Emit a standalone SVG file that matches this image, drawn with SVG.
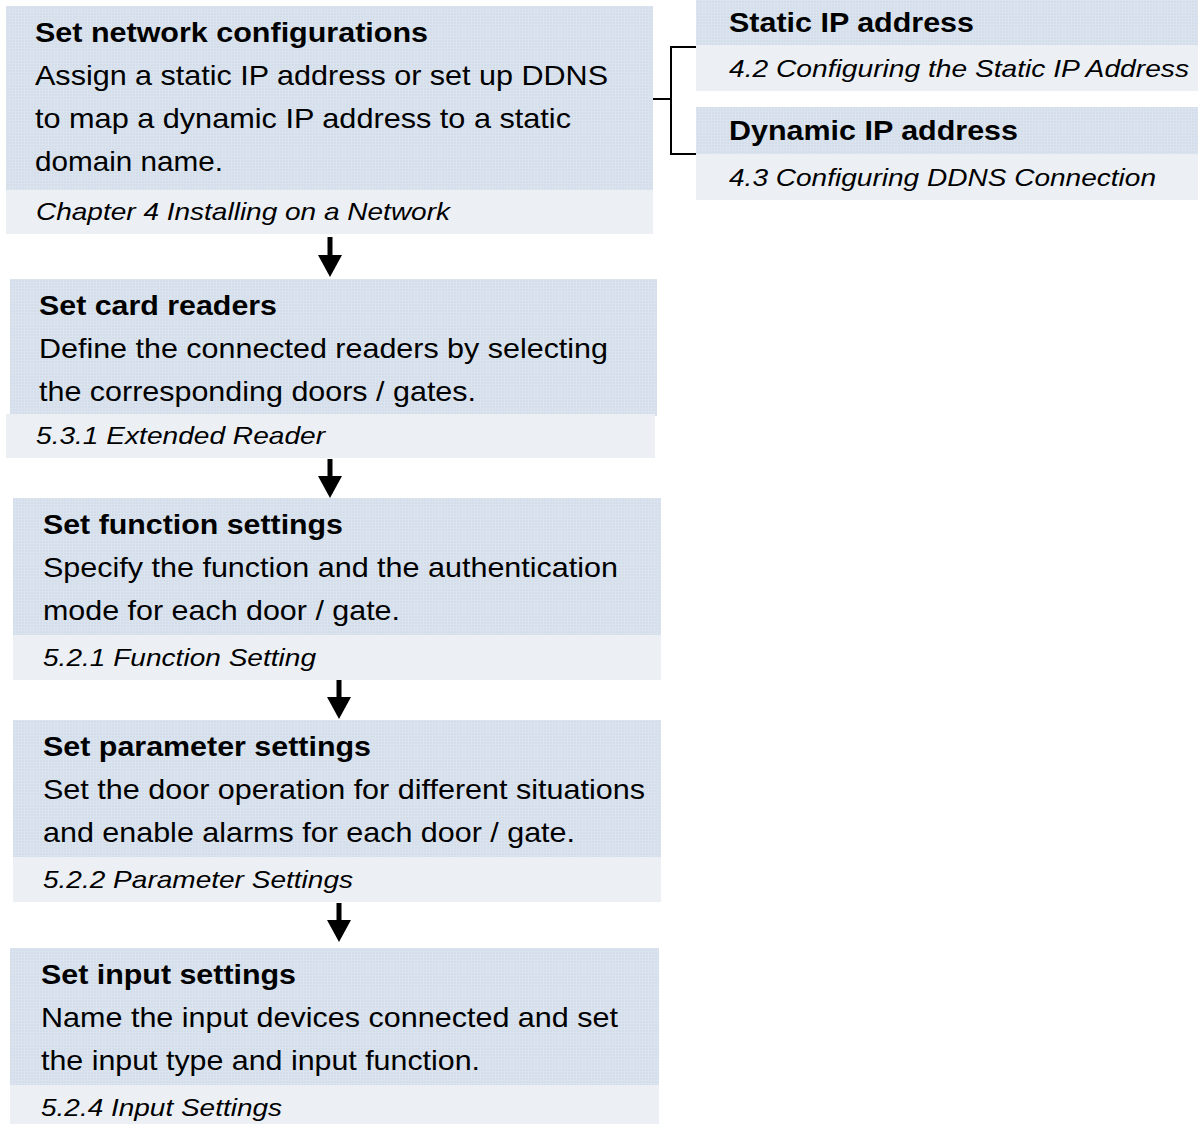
<svg xmlns="http://www.w3.org/2000/svg" width="1198" height="1124" viewBox="0 0 1198 1124">
<style>
.hd{fill:url(#tex)}
.ref{fill:#ecf0f5}
.t{font-family:"Liberation Sans",Arial,sans-serif;font-weight:bold;font-size:28px;fill:#000}
.b{font-family:"Liberation Sans",Arial,sans-serif;font-size:28px;fill:#000}
.i{font-family:"Liberation Sans",Arial,sans-serif;font-style:italic;font-size:24px;fill:#000}
.ln{fill:none;stroke:#000;stroke-width:2}
.sh{stroke:#000;stroke-width:5}
</style>
<defs>
<pattern id="tex" width="3" height="3" patternUnits="userSpaceOnUse">
<rect width="3" height="3" fill="#d3deea"/>
<rect width="3" height="1" fill="#dbe4ee"/>
<rect width="1" height="3" fill="#dbe4ee"/>
</pattern>
<marker id="ah" markerUnits="userSpaceOnUse" markerWidth="22" markerHeight="24" refX="0" refY="12" orient="auto" viewBox="0 0 22 24">
<path d="M0,0 L22,12 L0,24 Z" fill="#000"/>
</marker>
</defs>
<rect width="1198" height="1124" fill="#fff"/>

<g id="node-network">
<rect class="hd" x="6" y="6" width="647" height="184"/>
<rect class="ref" x="6" y="190" width="647" height="44"/>
<text class="t" x="35" y="42" textLength="393" lengthAdjust="spacingAndGlyphs">Set network configurations</text>
<text class="b" x="35" y="85" textLength="573" lengthAdjust="spacingAndGlyphs">Assign a static IP address or set up DDNS</text>
<text class="b" x="35" y="128" textLength="536" lengthAdjust="spacingAndGlyphs">to map a dynamic IP address to a static</text>
<text class="b" x="35" y="171" textLength="188" lengthAdjust="spacingAndGlyphs">domain name.</text>
<text class="i" x="36" y="220" textLength="414" lengthAdjust="spacingAndGlyphs">Chapter 4 Installing on a Network</text>
</g>

<g id="node-static">
<rect class="hd" x="696" y="0" width="502" height="45"/>
<rect class="ref" x="696" y="45" width="502" height="46"/>
<text class="t" x="729" y="32" textLength="245" lengthAdjust="spacingAndGlyphs">Static IP address</text>
<text class="i" x="729" y="77" textLength="460" lengthAdjust="spacingAndGlyphs">4.2 Configuring the Static IP Address</text>
</g>

<g id="node-dynamic">
<rect class="hd" x="696" y="107" width="502" height="47"/>
<rect class="ref" x="696" y="154" width="502" height="46"/>
<text class="t" x="729" y="140" textLength="289" lengthAdjust="spacingAndGlyphs">Dynamic IP address</text>
<text class="i" x="729" y="186" textLength="427" lengthAdjust="spacingAndGlyphs">4.3 Configuring DDNS Connection</text>
</g>

<g id="node-readers">
<rect class="hd" x="10" y="279" width="647" height="137"/>
<rect class="ref" x="6" y="414" width="649" height="44"/>
<text class="t" x="39" y="315" textLength="238" lengthAdjust="spacingAndGlyphs">Set card readers</text>
<text class="b" x="39" y="358" textLength="569" lengthAdjust="spacingAndGlyphs">Define the connected readers by selecting</text>
<text class="b" x="39" y="401" textLength="437" lengthAdjust="spacingAndGlyphs">the corresponding doors / gates.</text>
<text class="i" x="36" y="444" textLength="289" lengthAdjust="spacingAndGlyphs">5.3.1 Extended Reader</text>
</g>

<g id="node-function">
<rect class="hd" x="13" y="498" width="648" height="137"/>
<rect class="ref" x="13" y="635" width="648" height="45"/>
<text class="t" x="43" y="534" textLength="300" lengthAdjust="spacingAndGlyphs">Set function settings</text>
<text class="b" x="43" y="577" textLength="575" lengthAdjust="spacingAndGlyphs">Specify the function and the authentication</text>
<text class="b" x="43" y="620" textLength="357" lengthAdjust="spacingAndGlyphs">mode for each door / gate.</text>
<text class="i" x="43" y="666" textLength="273" lengthAdjust="spacingAndGlyphs">5.2.1 Function Setting</text>
</g>

<g id="node-parameter">
<rect class="hd" x="13" y="720" width="648" height="137"/>
<rect class="ref" x="13" y="857" width="648" height="45"/>
<text class="t" x="43" y="756" textLength="328" lengthAdjust="spacingAndGlyphs">Set parameter settings</text>
<text class="b" x="43" y="799" textLength="602" lengthAdjust="spacingAndGlyphs">Set the door operation for different situations</text>
<text class="b" x="43" y="842" textLength="532" lengthAdjust="spacingAndGlyphs">and enable alarms for each door / gate.</text>
<text class="i" x="43" y="888" textLength="310" lengthAdjust="spacingAndGlyphs">5.2.2 Parameter Settings</text>
</g>

<g id="node-input">
<rect class="hd" x="10" y="948" width="649" height="137"/>
<rect class="ref" x="10" y="1085" width="649" height="39"/>
<text class="t" x="41" y="984" textLength="255" lengthAdjust="spacingAndGlyphs">Set input settings</text>
<text class="b" x="41" y="1027" textLength="577" lengthAdjust="spacingAndGlyphs">Name the input devices connected and set</text>
<text class="b" x="41" y="1070" textLength="439" lengthAdjust="spacingAndGlyphs">the input type and input function.</text>
<text class="i" x="41" y="1116" textLength="241" lengthAdjust="spacingAndGlyphs">5.2.4 Input Settings</text>
</g>

<g id="connectors">
<path class="ln" d="M653,99 H671 M696,47 H671 V154 H696"/>
<line class="sh" x1="330" y1="237" x2="330" y2="255" marker-end="url(#ah)"/>
<line class="sh" x1="330" y1="459" x2="330" y2="476" marker-end="url(#ah)"/>
<line class="sh" x1="339" y1="680" x2="339" y2="697" marker-end="url(#ah)"/>
<line class="sh" x1="339" y1="903" x2="339" y2="920" marker-end="url(#ah)"/>
</g>
</svg>
